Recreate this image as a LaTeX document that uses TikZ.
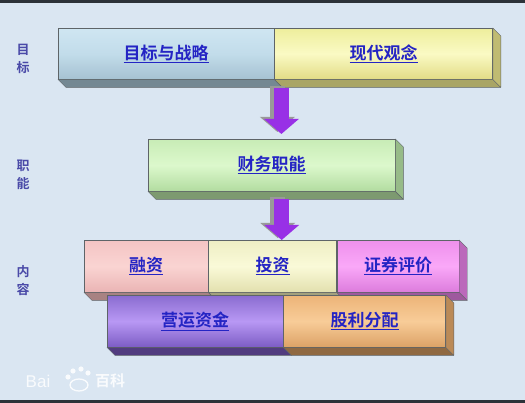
\documentclass[tikz,border=0pt]{standalone}
\usepackage{fontspec}
\newfontfamily\cjk{Noto Sans CJK SC Bold}
\newfontfamily\wmfont{Liberation Sans}
\usetikzlibrary{positioning,calc,arrows.meta}

\definecolor{bgblue}{HTML}{DAE6F2}
\definecolor{framegray}{HTML}{2C3239}
\definecolor{linkblue}{HTML}{2424C4}
\definecolor{sideblue}{HTML}{4A4AA8}
\definecolor{arrowpurple}{HTML}{9830E6}
\definecolor{edgegray}{HTML}{5E6468}
% cell colours: top / middle / bottom
\definecolor{goaltop}{HTML}{CFE6F2}\definecolor{goalmid}{HTML}{C2DCEA}\definecolor{goalbot}{HTML}{A6C2D2}
\definecolor{viewtop}{HTML}{EEEE9C}\definecolor{viewmid}{HTML}{FAFAC4}\definecolor{viewbot}{HTML}{E2DC86}
\definecolor{dutytop}{HTML}{C8ECB6}\definecolor{dutymid}{HTML}{DCF8CC}\definecolor{dutybot}{HTML}{B2DCA0}
\definecolor{fintop}{HTML}{F4C4C4}\definecolor{finmid}{HTML}{FAD4D2}\definecolor{finbot}{HTML}{EAB4B4}
\definecolor{invtop}{HTML}{EEEEC4}\definecolor{invmid}{HTML}{FAFAD8}\definecolor{invbot}{HTML}{E2E0AE}
\definecolor{sectop}{HTML}{EE90EC}\definecolor{secmid}{HTML}{FAA8F8}\definecolor{secbot}{HTML}{DC7CDC}
\definecolor{worktop}{HTML}{8A6CD0}\definecolor{workmid}{HTML}{B898F4}\definecolor{workbot}{HTML}{7C5CC4}
\definecolor{divtop}{HTML}{ECB478}\definecolor{divmid}{HTML}{F8CC98}\definecolor{divbot}{HTML}{DCA266}

\tikzset{
  cell/.style={rectangle, draw=edgegray, minimum height=51pt, inner sep=0pt,
    font=\cjk\fontsize{17}{20}\selectfont, text=linkblue},
  sidelabel/.style={font=\cjk\fontsize{13}{18}\selectfont, text=sideblue, align=center},
  face/.style={draw=edgegray, line join=round},
  flowarrow/.style={line width=15pt, draw=arrowpurple, -{Triangle[width=34pt,length=15pt]}},
  arrowshadow/.style={flowarrow, draw=gray!80, transform canvas={xshift=-4pt, yshift=2pt}},
  watermark/.style={text=white, opacity=0.85, inner sep=0pt}
}

\begin{document}
\begin{tikzpicture}[x=1pt,y=-1pt]
    \useasboundingbox (0,0) rectangle (525,403);
    \fill[bgblue] (0,0) rectangle (525,403);
    \fill[framegray] (0,0) rectangle (525,3);
    \fill[framegray] (0,400) rectangle (525,403);

    % side labels
    \node[sidelabel] (lgoal) at (23,59) {目\\标};
    \node[sidelabel] (lduty) at (23,175) {职\\能};
    \node[sidelabel] (lcont) at (23,281) {内\\容};

    % row 1
    \node[cell, anchor=north west, minimum width=216pt,
      top color=goaltop, bottom color=goalbot, middle color=goalmid] (goal) at (58,28) {\underline{目标与战略}};
    \node[cell, right=0pt of goal, minimum width=218pt,
      top color=viewtop, bottom color=viewbot, middle color=viewmid] (view) {\underline{现代观念}};
    \fill[face, fill=goalbot!70!black] (goal.south west) -- ++(8,8) -- ($(goal.south east)+(8,8)$) -- (goal.south east) -- cycle;
    \fill[face, fill=viewbot!75!black] (view.south west) -- ++(8,8) -- ($(view.south east)+(8,8)$) -- (view.south east) -- cycle;
    \fill[face, fill=viewbot!85!black] (view.north east) -- ++(8,8) -- ($(view.south east)+(8,8)$) -- (view.south east) -- cycle;

    % row 2
    \node[cell, anchor=north west, minimum width=247pt, minimum height=52pt,
      top color=dutytop, bottom color=dutybot, middle color=dutymid] (duty) at (148,139) {\underline{财务职能}};
    \fill[face, fill=dutybot!70!black] (duty.south west) -- ++(8,8) -- ($(duty.south east)+(8,8)$) -- (duty.south east) -- cycle;
    \fill[face, fill=dutybot!85!black] (duty.north east) -- ++(8,8) -- ($(duty.south east)+(8,8)$) -- (duty.south east) -- cycle;

    % row 3
    \node[cell, anchor=north west, minimum width=124pt, minimum height=52pt,
      top color=fintop, bottom color=finbot, middle color=finmid] (fin) at (84,240) {\underline{融资}};
    \node[cell, right=0pt of fin, minimum width=128pt, minimum height=52pt,
      top color=invtop, bottom color=invbot, middle color=invmid] (inv) {\underline{投资}};
    \node[cell, right=0pt of inv, minimum width=122pt, minimum height=52pt,
      top color=sectop, bottom color=secbot, middle color=secmid] (sec) {\underline{证券评价}};
    \foreach \c in {fin,inv,sec}
      \fill[face, fill=\c bot!72!black] (\c.south west) -- ++(8,8) -- ($(\c.south east)+(8,8)$) -- (\c.south east) -- cycle;
    \fill[face, fill=secbot!85!black] (sec.north east) -- ++(8,8) -- ($(sec.south east)+(8,8)$) -- (sec.south east) -- cycle;

    % row 4
    \node[cell, anchor=north west, minimum width=176pt, minimum height=52pt,
      top color=worktop, bottom color=workbot, middle color=workmid] (work) at (107,295) {\underline{营运资金}};
    \node[cell, right=0pt of work, minimum width=162pt, minimum height=52pt,
      top color=divtop, bottom color=divbot, middle color=divmid] (div) {\underline{股利分配}};
    \foreach \c in {work,div}
      \fill[face, fill=\c bot!65!black] (\c.south west) -- ++(8,8) -- ($(\c.south east)+(8,8)$) -- (\c.south east) -- cycle;
    \fill[face, fill=divbot!85!black] (div.north east) -- ++(8,8) -- ($(div.south east)+(8,8)$) -- (div.south east) -- cycle;

    % arrows
    \coordinate (a1) at ($(goal.south east)+(7,9)$);
    \coordinate (b1) at ($(a1 |- duty.north)+(0,-5)$);
    \coordinate (a2) at ($(duty.south)+(10,8)$);
    \coordinate (b2) at (a2 |- fin.north);
    \draw[arrowshadow] (a1) -- (b1);
    \draw[flowarrow] (a1) -- (b1);
    \draw[arrowshadow] (a2) -- (b2);
    \draw[flowarrow] (a2) -- (b2);

    % watermark
    \node[watermark, font=\wmfont\fontsize{17}{17}\selectfont] (bai) at (38,381) {Bai};
    \draw[white, opacity=0.85, line width=1.3pt] (79,385) circle[x radius=9pt, y radius=6pt];
    \foreach \px/\py in {68/377, 73/371, 81/369, 88/373}
      \fill[white, opacity=0.85] (\px,\py) circle[radius=2.6pt];
    \node[watermark, font=\cjk\fontsize{15}{15}\selectfont] (baike) at (110,381) {百科};
\end{tikzpicture}
\end{document}
